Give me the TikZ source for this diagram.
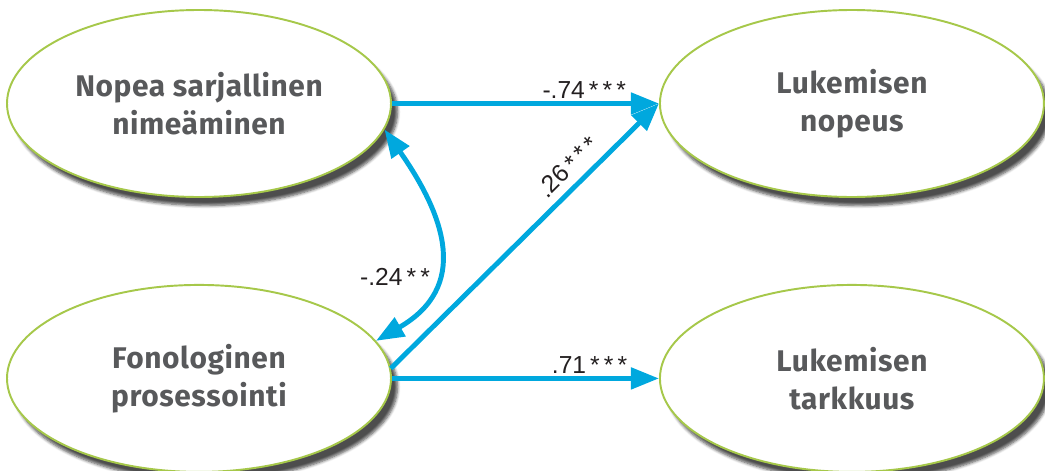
\documentclass[tikz,border=0pt]{standalone}
\usepackage{fontspec}
\setsansfont[LetterSpace=2]{Fira Sans}
\newfontfamily\semnumfont{Liberation Sans}
\usepackage{tikz}
\usetikzlibrary{arrows.meta,positioning,shapes.geometric,shadows.blur}
\definecolor{semBlue}{HTML}{00A8DE}
\definecolor{semGreen}{HTML}{A6C84A}
\definecolor{semInk}{HTML}{58595B}
\definecolor{semText}{HTML}{231F20}
\newcommand\semstars[1]{\foreach \s in {1,...,#1}{\,*}}
\tikzset{
  sem diagram/.style={font=\sffamily, line join=round},
  sem var/.style={ellipse, draw=semGreen, fill=white, line width=1.1pt,
    minimum width=7.68cm, minimum height=3.74cm, inner sep=0pt,
    align=center, text=semInk,
    font=\sffamily\bfseries\fontsize{17}{21.6}\selectfont,
    blur shadow={shadow xshift=0.13cm, shadow yshift=-0.17cm,
      shadow blur steps=6, shadow opacity=70}},
  sem path/.style={-{Triangle[length=5.6mm,width=4.2mm]}, draw=semBlue,
    line width=2.8pt},
  sem cov/.style={sem path,
    {Triangle[length=5.6mm,width=4.2mm]}-{Triangle[length=5.6mm,width=4.2mm]}},
  sem label/.style={font=\semnumfont\fontsize{14}{16}\selectfont,
    text=semText, inner sep=1.5pt}
}
\begin{document}
\begin{tikzpicture}[sem diagram]
\useasboundingbox (0,0) rectangle (20.9,9.4);
\node[sem var] (nsn) at (3.98,7.33) {Nopea sarjallinen\\nimeäminen};
\node[sem var,below=1.72cm of nsn] (fp) {Fonologinen\\prosessointi};
\node[sem var,right=5.34cm of nsn] (lnop) {Lukemisen\\nopeus};
\node[sem var,below=1.72cm of lnop] (ltark) {Lukemisen\\tarkkuus};
% paths
\draw[sem path] (nsn.east) -- (lnop.west)
  node[sem label,above,pos=0.72] {-.74\semstars{3}};
\draw[sem path] (fp.3) -- (lnop.west)
  node[sem label,sloped,above=3pt,pos=0.71] {.26\semstars{3}};
\draw[sem path] (fp.east) -- (ltark.west)
  node[sem label,above,pos=0.74] {.71\semstars{3}};
\draw[sem cov] (nsn.-8) to[out=-55,in=30,looseness=1.3]
  node[sem label,left,pos=0.64] {-.24\semstars{2}} (fp.12);
\end{tikzpicture}
\end{document}
